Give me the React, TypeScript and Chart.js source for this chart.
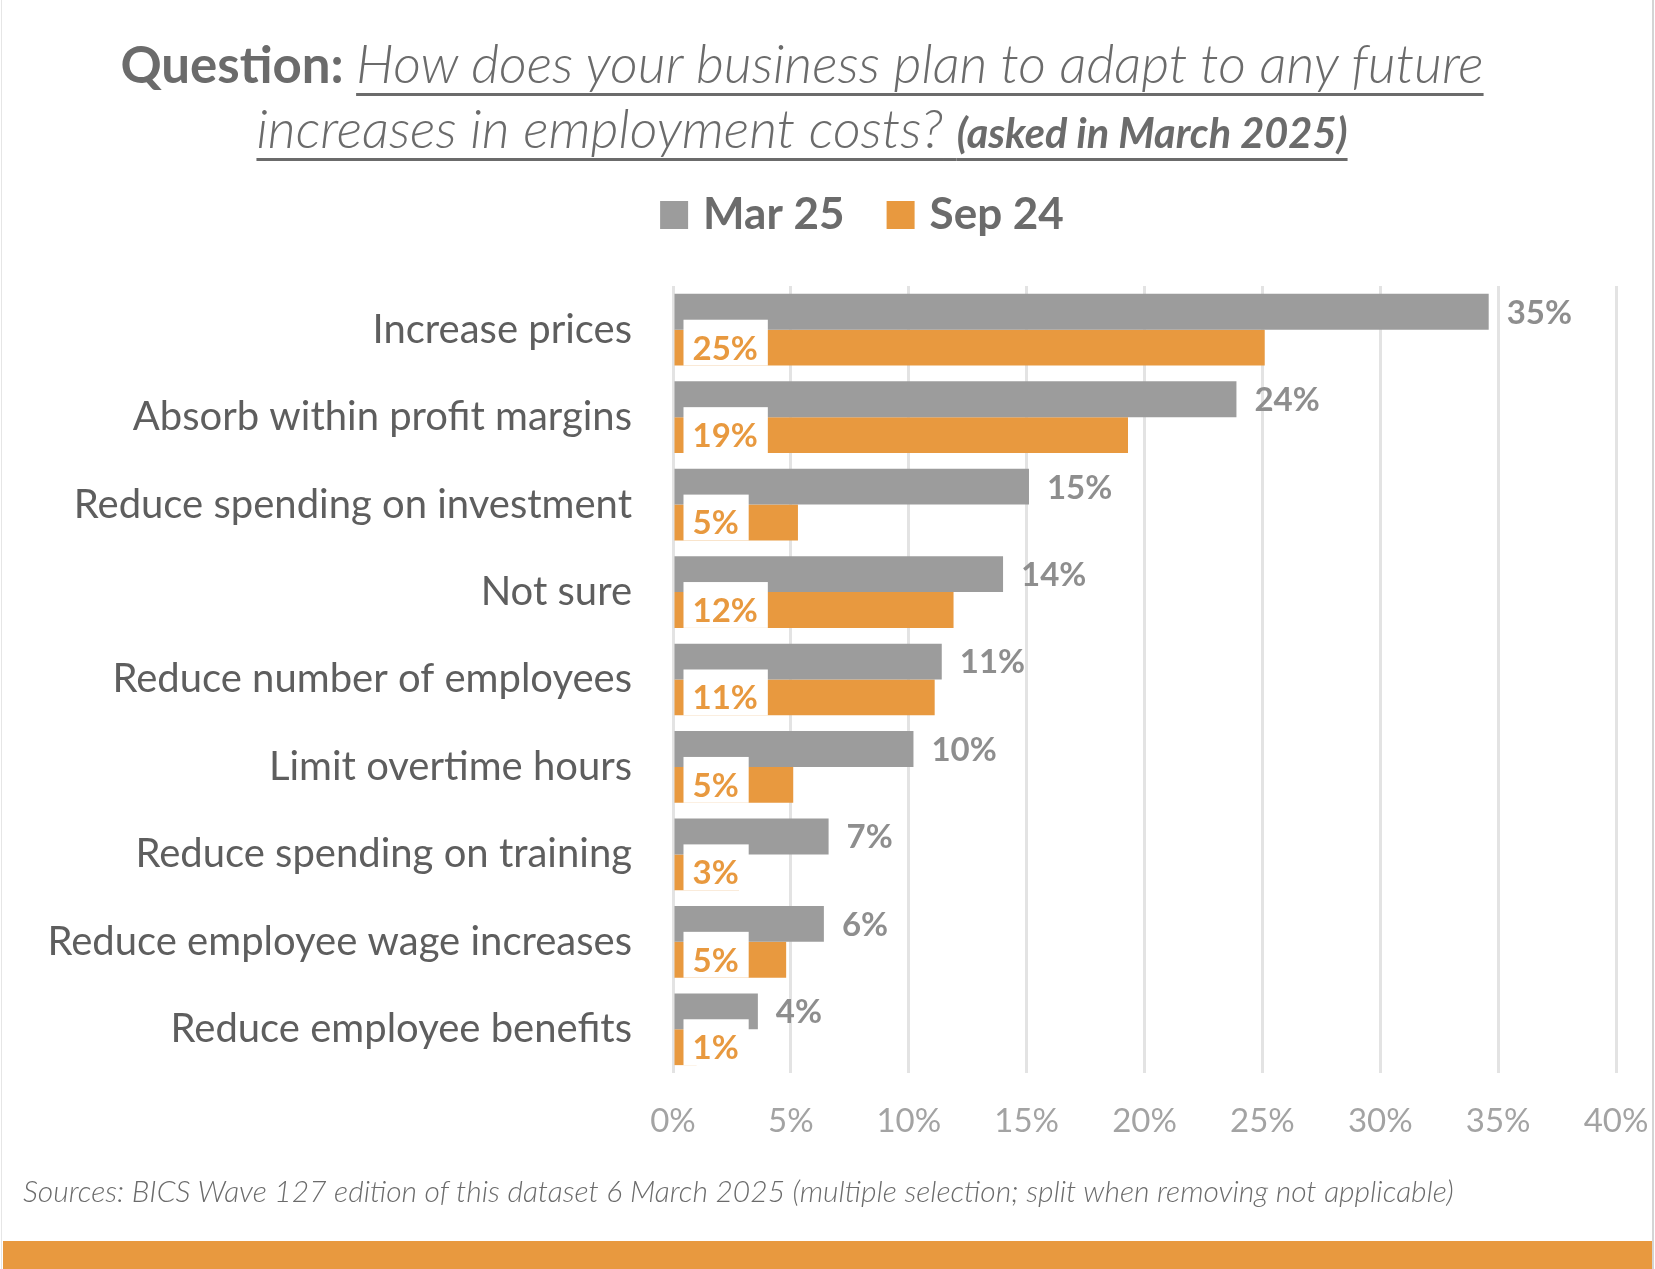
import React, { useEffect, useRef } from "react";
import { Chart, registerables } from "chart.js";

Chart.register(...registerables);

const categories = [
  "Increase prices",
  "Absorb within profit margins",
  "Reduce spending on investment",
  "Not sure",
  "Reduce number of employees",
  "Limit overtime hours",
  "Reduce spending on training",
  "Reduce employee wage increases",
  "Reduce employee benefits",
];
const seriesNames = ["Mar 25", "Sep 24"];
const mar25 = [34.6, 23.9, 15.1, 14.0, 11.4, 10.2, 6.6, 6.4, 3.6];
const sep24 = [25.1, 19.3, 5.3, 11.9, 11.1, 5.1, 2.8, 4.8, 1.0];
const xMin = 0;
const xMax = 40;
const xStep = 5;

const GRAY = "#9C9C9C";
const ORANGE = "#E8993F";
const FONT = "Lato";

const labelPlugin = {
  id: "barLabels",
  afterDatasetsDraw(chart: any) {
    const ctx = chart.ctx;
    ctx.save();
    const size = 33;
    ctx.font = `bold ${size}px ${FONT}`;
    ctx.textBaseline = "alphabetic";
    ctx.textAlign = "left";
    const m0 = chart.getDatasetMeta(0);
    m0.data.forEach((bar: any, i: number) => {
      const p = bar.getProps(["x", "y"], true);
      ctx.fillStyle = "#8E8E8E";
      ctx.fillText(Math.round(mar25[i]) + "%", p.x + 18, p.y + size * 0.36);
    });
    const m1 = chart.getDatasetMeta(1);
    m1.data.forEach((bar: any, i: number) => {
      const p = bar.getProps(["x", "y", "base", "height"], true);
      const text = Math.round(sep24[i]) + "%";
      const w = ctx.measureText(text).width;
      const left = p.base + 9;
      const top = p.y - p.height / 2 - 10;
      ctx.fillStyle = "#FFFFFF";
      ctx.fillRect(left, top, w + 19, p.height + 10);
      ctx.fillStyle = ORANGE;
      ctx.fillText(text, left + 9, p.y + size * 0.36);
    });
    ctx.restore();
  },
  afterDraw(chart: any) {
    const ctx = chart.ctx;
    ctx.save();
    const size = 44;
    ctx.font = `bold ${size}px ${FONT}`;
    ctx.textBaseline = "alphabetic";
    ctx.textAlign = "left";
    const box = 28;
    const gap = 15;
    const itemGap = 42;
    const ds = chart.data.datasets;
    const widths = ds.map((d: any) => ctx.measureText(d.label).width);
    const total =
      widths.reduce((a: number, b: number) => a + b + box + gap, 0) + itemGap * (ds.length - 1);
    let x = 862 - total / 2;
    const baseline = 229;
    ds.forEach((d: any, i: number) => {
      ctx.fillStyle = d.backgroundColor;
      ctx.fillRect(x, 201, box, box);
      x += box + gap;
      ctx.fillStyle = "#6B6B6B";
      ctx.fillText(d.label, x, baseline);
      x += widths[i] + itemGap;
    });
    ctx.restore();
  },
};

export default function App() {
  const canvasRef = useRef<HTMLCanvasElement | null>(null);

  useEffect(() => {
    document.body.style.margin = "0";
    const canvas = canvasRef.current;
    if (!canvas) return;
    const chart = new Chart(canvas, {
      type: "bar",
      data: {
        labels: categories,
        datasets: [
          {
            label: seriesNames[0],
            data: mar25,
            backgroundColor: GRAY,
            categoryPercentage: 0.82,
            barPercentage: 1,
          },
          {
            label: seriesNames[1],
            data: sep24,
            backgroundColor: ORANGE,
            categoryPercentage: 0.82,
            barPercentage: 1,
          },
        ],
      },
      options: {
        indexAxis: "y",
        responsive: false,
        animation: false,
        devicePixelRatio: 1,
        layout: { padding: { top: 286, right: 39, bottom: 0, left: 0 } },
        plugins: {
          legend: { display: false },
          tooltip: { enabled: false },
          title: { display: false },
        },
        scales: {
          x: {
            min: xMin,
            max: xMax,
            ticks: {
              stepSize: xStep,
              callback: (v: any) => v + "%",
              color: "#A3A3A3",
              font: { family: FONT, size: 33 },
              padding: 29,
              maxRotation: 0,
            },
            grid: { color: "#E3E3E3", lineWidth: 3, drawTicks: false },
            border: { display: false },
            afterFit: (s: any) => {
              s.height = 196;
              s.paddingLeft = 0;
              s.paddingRight = 0;
            },
          },
          y: {
            ticks: {
              color: "#5E5E5E",
              font: { family: FONT, size: 40 },
              padding: 41,
            },
            grid: { display: false, drawTicks: false },
            border: { display: false },
            afterFit: (s: any) => {
              s.width = 673;
              s.paddingTop = 0;
              s.paddingBottom = 0;
            },
          },
        },
      },
      plugins: [labelPlugin],
    });
    return () => chart.destroy();
  }, []);

  const titleColor = "#6B6B6B";
  const ul: React.CSSProperties = {
    textDecoration: "underline",
    textDecorationThickness: "3px",
    textUnderlineOffset: "10px",
    textDecorationColor: titleColor,
  };

  return (
    <div
      style={{
        position: "relative",
        width: 1655,
        height: 1269,
        background: "#FFFFFF",
        overflow: "hidden",
        fontFamily: FONT,
      }}
    >
      <canvas
        ref={canvasRef}
        width={1655}
        height={1269}
        style={{ position: "absolute", left: 0, top: 0, width: 1655, height: 1269 }}
      />
      <div
        style={{
          position: "absolute",
          left: 0,
          top: 31,
          width: 1604,
          textAlign: "center",
          color: titleColor,
          lineHeight: "64px",
          fontSize: 54,
          whiteSpace: "nowrap",
        }}
      >
        <span style={{ fontWeight: 700, fontSize: 51 }}>Question: </span>
        <span style={{ ...ul, fontStyle: "italic", fontWeight: 300 }}>
          How does your business plan to adapt to any future
        </span>
        <br />
        <span style={{ ...ul, fontStyle: "italic", fontWeight: 300 }}>
          increases in employment costs?{" "}
        </span>
        <span style={{ ...ul, fontStyle: "italic", fontWeight: 700, fontSize: 41.5 }}>
          (asked in March 2025)
        </span>
      </div>
      <div
        style={{
          position: "absolute",
          left: 23,
          top: 1175,
          fontSize: 30,
          lineHeight: "30px",
          fontStyle: "italic",
          fontWeight: 300,
          color: "#6B6B6B",
          whiteSpace: "nowrap",
        }}
      >
        Sources: BICS Wave 127 edition of this dataset 6 March 2025 (multiple selection; split when
        removing not applicable)
      </div>
      <div
        style={{
          position: "absolute",
          left: 3,
          top: 1241,
          width: 1649,
          height: 28,
          background: ORANGE,
        }}
      />
      <div
        style={{
          position: "absolute",
          left: 1652,
          top: 0,
          width: 2,
          height: 1269,
          background: "#D4D4D4",
        }}
      />
      <div
        style={{
          position: "absolute",
          left: 1,
          top: 0,
          width: 1,
          height: 1269,
          background: "#E6E6E6",
        }}
      />
    </div>
  );
}
